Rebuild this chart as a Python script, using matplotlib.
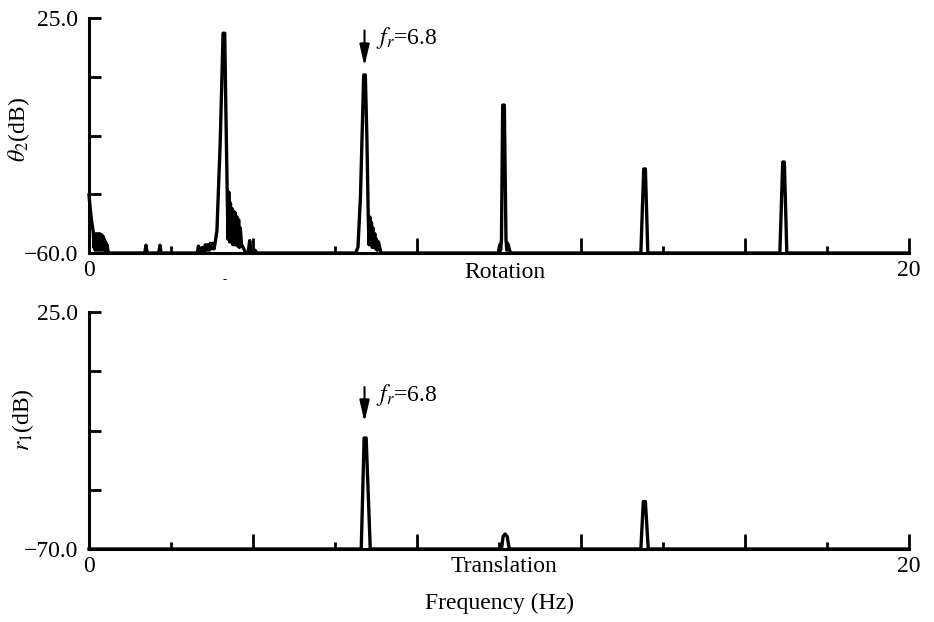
import matplotlib
matplotlib.use("Agg")
import matplotlib.pyplot as plt

plt.rcParams['font.family'] = ['Liberation Serif', 'DejaVu Serif']
plt.rcParams['mathtext.fontset'] = 'stix'

# ---- Rotation spectrum (theta_2, dB) ----
rot_freq = [0.00, 0.03, 0.06, 0.09, 0.105, 0.12, 0.135, 0.15, 0.165, 0.18, 0.195, 0.21,
            0.225, 0.24, 0.255, 0.27, 0.285, 0.30, 0.315, 0.33, 0.345, 0.36, 0.375,
            0.39, 0.405, 0.42, 0.44, 0.47, 0.52,
            1.36, 1.39, 1.42, 1.70, 1.73, 1.76,
            2.64, 2.67, 2.70, 2.76, 2.80, 2.84, 2.87, 2.90, 2.93, 2.96, 2.99, 3.02,
            3.05, 3.08, 3.12, 3.20, 3.27, 3.31, 3.34, 3.37, 3.39, 3.41, 3.43, 3.45,
            3.47, 3.49, 3.51, 3.53, 3.55, 3.57, 3.59, 3.61, 3.63, 3.65, 3.67, 3.69,
            3.72, 3.76, 3.82, 3.88, 3.92, 3.96, 4.05, 4.10,
            6.50, 6.56, 6.62, 6.70, 6.74, 6.78, 6.81, 6.83, 6.85, 6.87, 6.89, 6.91,
            6.93, 6.95, 6.97, 6.99, 7.01, 7.03, 7.06, 7.12,
            9.98, 10.02, 10.04, 10.06, 10.09, 10.13, 10.17, 10.19, 10.21, 10.24, 10.28,
            13.46, 13.53, 13.57, 13.63,
            16.85, 16.92, 16.96, 17.02, 20.00]
rot_db = [-39.0, -44.0, -48.0, -51.0, -52.5, -58.0, -53.0, -59.0, -53.5, -58.5, -53.0, -59.0,
          -53.5, -58.5, -53.0, -59.0, -53.5, -58.5, -53.5, -59.0, -54.0, -58.5, -55.0,
          -59.0, -56.0, -59.5, -57.0, -60.0, -60.0,
          -60.0, -57.2, -60.0, -60.0, -57.2, -60.0,
          -60.0, -57.5, -60.0, -58.0, -60.0, -57.0, -59.0, -57.0, -59.0, -56.5, -58.5, -56.5,
          -58.5, -56.0, -52.0, -20.0, 19.5, 19.5, -10.0, -37.0, -55.0, -38.0, -56.0, -42.0,
          -56.0, -44.0, -57.0, -45.0, -57.0, -45.5, -57.0, -47.0, -57.5, -48.0, -58.0, -51.0,
          -57.0, -58.0, -60.0, -60.0, -55.5, -60.0, -59.0, -60.0,
          -60.0, -58.0, -40.0, 4.4, 4.4, -20.0, -46.0, -57.0, -47.0, -57.0, -49.0, -58.0,
          -51.0, -58.0, -53.0, -58.5, -55.0, -59.0, -56.0, -60.0,
          -60.0, -57.0, -59.0, -55.0, -6.5, -6.5, -55.0, -59.0, -56.5, -58.0, -60.0,
          -60.0, -29.6, -29.6, -60.0,
          -60.0, -27.1, -27.1, -60.0, -60.0]

# ---- Translation spectrum (r_1, dB) ----
tra_freq = [0.00, 6.64, 6.71, 6.76, 6.86, 10.06, 10.10, 10.15, 10.20, 10.25,
            13.46, 13.52, 13.57, 13.64, 20.00]
tra_db = [-70.0, -70.0, -25.5, -25.5, -70.0, -70.0, -65.0, -64.0, -65.0, -70.0,
          -70.0, -51.0, -51.0, -70.0, -70.0]

rot_yticks = [-60.0, -38.75, -17.5, 3.75, 25.0]
rot_ylabels = ['\u221260.0', '', '', '', '25.0']
tra_yticks = [-70.0, -46.25, -22.5, 1.25, 25.0]
tra_ylabels = ['\u221270.0', '', '', '', '25.0']
x_major = [0, 4, 8, 12, 16, 20]
x_major_labels = ['0', '', '', '', '', '20']
x_minor = [2, 6, 10, 14, 18]
f_res = 6.72

W, H = 934, 622
fig = plt.figure(figsize=(W / 100, H / 100), dpi=100)
ax1 = fig.add_axes([89 / W, 1 - 253 / H, 820 / W, 235 / H])
ax2 = fig.add_axes([89 / W, 1 - 549 / H, 820 / W, 237 / H])

FS = 17

def style(ax, yticks, ylabels, ylim):
    ax.set_xlim(0, 20)
    ax.set_ylim(*ylim)
    for s in ('top', 'right'):
        ax.spines[s].set_visible(False)
    for s in ('left', 'bottom'):
        ax.spines[s].set_linewidth(2.2)
    ax.set_yticks(yticks)
    ax.set_yticklabels(ylabels)
    ax.set_xticks(x_major)
    ax.set_xticklabels(x_major_labels)
    ax.set_xticks(x_minor, minor=True)
    ax.tick_params(axis='y', direction='in', length=8.5, width=2, pad=8, labelsize=FS)
    ax.tick_params(axis='x', which='major', direction='in', length=11, width=2, pad=5, labelsize=FS)
    ax.tick_params(axis='x', which='minor', direction='in', length=5, width=2)

ax1.plot(rot_freq, rot_db, color='k', lw=2.4, clip_on=False)
style(ax1, rot_yticks, rot_ylabels, (-60, 25))
ax2.plot(tra_freq, tra_db, color='k', lw=2.4, clip_on=False)
style(ax2, tra_yticks, tra_ylabels, (-70, 25))

ax1.annotate('', xy=(f_res, 7.6), xytext=(f_res, 20.5),
             arrowprops=dict(arrowstyle='-|>,head_length=1.3,head_width=0.3',
                             mutation_scale=10, lw=1.5, color='k', shrinkA=0, shrinkB=0))
ax1.text(7.0, 15.6, r'$f_r$=6.8', fontsize=FS, ha='left', va='baseline')
ax2.annotate('', xy=(f_res, -19.1), xytext=(f_res, -5.1),
             arrowprops=dict(arrowstyle='-|>,head_length=1.3,head_width=0.3',
                             mutation_scale=10, lw=1.5, color='k', shrinkA=0, shrinkB=0))
ax2.text(7.0, -10.7, r'$f_r$=6.8', fontsize=FS, ha='left', va='baseline')

fig.text(19 / W, 1 - 129 / H, r'$\theta_2$(dB)', rotation=90, fontsize=FS, ha='center', va='center')
fig.text(23 / W, 1 - 420 / H, r'$r_1$(dB)', rotation=90, fontsize=FS, ha='center', va='center')
fig.text(505 / W, 1 - 272 / H, 'Rotation', fontsize=FS, ha='center', va='center')
fig.text(504 / W, 1 - 567 / H, 'Translation', fontsize=FS, ha='center', va='center')
fig.text(499 / W, 1 - 603 / H, 'Frequency (Hz)', fontsize=FS, ha='center', va='center')
fig.text(225 / W, 1 - 280 / H, '-', fontsize=9, ha='center', va='center')

fig.savefig('out.png', dpi=100)
